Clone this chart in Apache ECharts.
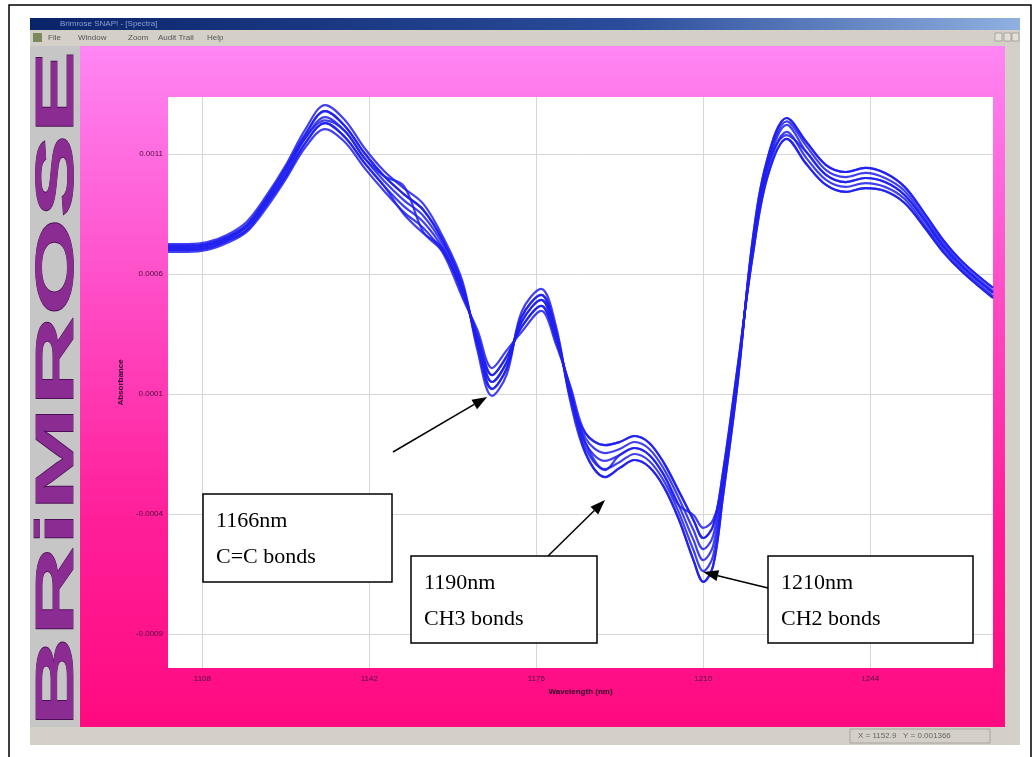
<!DOCTYPE html>
<html><head><meta charset="utf-8">
<script src="https://cdn.jsdelivr.net/npm/echarts@6/dist/echarts.min.js"></script>
<style>html,body{margin:0;padding:0;background:#fff}#c{width:1036px;height:757px}</style>
</head><body><div id="c"></div>
<script>
// ---------- DATA ----------
const wavelengths = [1101,1105,1109,1113,1117,1121,1125,1129,1133,1137,1141,1145,1149,1153,1157,1161,1164,1167,1170,1173,1177,1180,1183,1186,1190,1193,1196,1199,1202,1205,1208,1210,1212,1214,1217,1220,1223,1227,1231,1235,1239,1243,1247,1251,1255,1259,1263,1269];

const spectrumA = [708e-6,708e-6,717e-6,746e-6,796e-6,900e-6,1025e-6,1167e-6,1254e-6,1196e-6,1083e-6,988e-6,908e-6,842e-6,721e-6,533e-6,325e-6,150e-6,233e-6,400e-6,492e-6,346e-6,96e-6,-104e-6,-179e-6,-154e-6,-125e-6,-154e-6,-238e-6,-363e-6,-508e-6,-592e-6,-533e-6,-279e-6,179e-6,700e-6,1042e-6,1221e-6,1108e-6,1013e-6,983e-6,1000e-6,983e-6,929e-6,825e-6,713e-6,625e-6,521e-6];
const spectrumB = [725e-6,725e-6,733e-6,763e-6,817e-6,925e-6,1054e-6,1204e-6,1304e-6,1242e-6,1125e-6,1029e-6,958e-6,892e-6,754e-6,567e-6,283e-6,92e-6,183e-6,442e-6,538e-6,383e-6,63e-6,-146e-6,-246e-6,-208e-6,-175e-6,-204e-6,-288e-6,-421e-6,-592e-6,-683e-6,-617e-6,-329e-6,146e-6,733e-6,1075e-6,1250e-6,1150e-6,1054e-6,1025e-6,1042e-6,1021e-6,963e-6,854e-6,738e-6,646e-6,542e-6];
const spectrumC = [692e-6,692e-6,700e-6,729e-6,775e-6,875e-6,996e-6,1129e-6,1204e-6,1150e-6,1042e-6,946e-6,858e-6,792e-6,688e-6,500e-6,367e-6,208e-6,283e-6,358e-6,446e-6,308e-6,129e-6,-63e-6,-113e-6,-100e-6,-75e-6,-104e-6,-188e-6,-304e-6,-425e-6,-500e-6,-450e-6,-229e-6,213e-6,667e-6,1000e-6,1163e-6,1058e-6,971e-6,942e-6,958e-6,946e-6,896e-6,796e-6,688e-6,604e-6,500e-6];
const spectrumD = [717e-6,717e-6,725e-6,754e-6,804e-6,913e-6,1042e-6,1183e-6,1279e-6,1217e-6,1104e-6,1008e-6,933e-6,867e-6,738e-6,550e-6,304e-6,121e-6,208e-6,421e-6,513e-6,363e-6,79e-6,-125e-6,-213e-6,-183e-6,-150e-6,-179e-6,-263e-6,-392e-6,-550e-6,-638e-6,-575e-6,-304e-6,163e-6,717e-6,1058e-6,1236e-6,1133e-6,1033e-6,1004e-6,1021e-6,1000e-6,946e-6,838e-6,725e-6,633e-6,529e-6];
const spectrumE = [700e-6,700e-6,708e-6,738e-6,783e-6,888e-6,1008e-6,1146e-6,1229e-6,1171e-6,1063e-6,967e-6,883e-6,817e-6,704e-6,517e-6,346e-6,179e-6,258e-6,379e-6,467e-6,325e-6,113e-6,-83e-6,-146e-6,-129e-6,-100e-6,-129e-6,-213e-6,-333e-6,-467e-6,-546e-6,-492e-6,-254e-6,196e-6,683e-6,1021e-6,1192e-6,1083e-6,992e-6,963e-6,979e-6,963e-6,913e-6,808e-6,700e-6,613e-6,508e-6];
const spectrumF = [708e-6,708e-6,717e-6,746e-6,796e-6,900e-6,1025e-6,1167e-6,1240e-6,1196e-6,1083e-6,1008e-6,967e-6,775e-6,692e-6,533e-6,325e-6,150e-6,233e-6,400e-6,492e-6,346e-6,96e-6,-104e-6,-217e-6,-154e-6,-125e-6,-154e-6,-238e-6,-363e-6,-404e-6,-458e-6,-425e-6,-279e-6,179e-6,700e-6,1042e-6,1179e-6,1108e-6,1013e-6,983e-6,1000e-6,983e-6,929e-6,825e-6,713e-6,625e-6,521e-6];
const spectrumG = [717e-6,717e-6,725e-6,754e-6,804e-6,913e-6,1042e-6,1183e-6,1279e-6,1217e-6,1104e-6,1008e-6,933e-6,867e-6,738e-6,550e-6,304e-6,121e-6,208e-6,421e-6,513e-6,363e-6,79e-6,-63e-6,-113e-6,-100e-6,-75e-6,-104e-6,-188e-6,-304e-6,-425e-6,-500e-6,-450e-6,-229e-6,213e-6,667e-6,1000e-6,1163e-6,1058e-6,971e-6,942e-6,958e-6,946e-6,896e-6,796e-6,688e-6,604e-6,500e-6];
const spectrumH = [700e-6,700e-6,708e-6,738e-6,783e-6,888e-6,1008e-6,1146e-6,1229e-6,1171e-6,1063e-6,967e-6,850e-6,770e-6,704e-6,517e-6,346e-6,179e-6,258e-6,379e-6,467e-6,325e-6,113e-6,-146e-6,-246e-6,-208e-6,-175e-6,-204e-6,-288e-6,-421e-6,-592e-6,-683e-6,-617e-6,-329e-6,146e-6,733e-6,1075e-6,1250e-6,1150e-6,1054e-6,1025e-6,1042e-6,1021e-6,963e-6,854e-6,738e-6,646e-6,542e-6];

const xTicks = [1108,1142,1176,1210,1244];
const xTickLabels = ['1108','1142','1176','1210','1244'];
const yTicks = [0.0011,0.0006,0.0001,-0.0004,-0.0009];
const yTickLabels = ['0.0011','0.0006','0.0001','-0.0004','-0.0009'];

const annotationWavelengths = [1166,1190,1210];
const annotationValues = [88e-6,-342e-6,-642e-6];
const annotationLine1 = ['1166nm','1190nm','1210nm'];
const annotationLine2 = ['C=C bonds','CH3 bonds','CH2 bonds'];

const menuItems = ['File','Window','Zoom','Audit Trail','Help'];
const statusText = 'X = 1152.9   Y = 0.001366';
const titleText = 'Brimrose SNAP! - [Spectra]';
const logoText = 'BRiMROSE';

// ---------- LAYOUT (pixels, not data) ----------
const boxLayout = [
  {x:203, y:494, w:189, h:88, tail:[393,452]},
  {x:411, y:556, w:186, h:87, tail:[548,556]},
  {x:768, y:556, w:205, h:87, tail:[768,588]}
];
const menuX = [48,78,128,158,207];

const spectra = [spectrumA,spectrumB,spectrumC,spectrumD,spectrumE,spectrumF,spectrumG,spectrumH];

const chart = echarts.init(document.getElementById('c'), null, {renderer:'canvas', width:1036, height:757});

function pick(list, labels, v){
  for (let i=0;i<list.length;i++){ if (Math.abs(list[i]-v) < 1e-9) return labels[i]; }
  return '';
}

const bg = [];
// outer frame
bg.push({type:'rect', z:0, shape:{x:9,y:5,width:1022,height:760}, style:{fill:'#fff', stroke:'#000', lineWidth:1.5}});
// title bar
bg.push({type:'rect', z:0, shape:{x:30,y:18,width:990,height:12},
  style:{fill:{type:'linear',x:0,y:0,x2:1,y2:0,colorStops:[{offset:0,color:'#0a246a'},{offset:0.6,color:'#2a4c9a'},{offset:1,color:'#8fb0e0'}]}}});
bg.push({type:'text', z:1, x:60, y:24, style:{text:titleText, fill:'#8e9fd2', font:'8px "Liberation Sans"', verticalAlign:'middle'}});
// menu bar
bg.push({type:'rect', z:0, shape:{x:30,y:30,width:990,height:16}, style:{fill:'#d4d0c8'}});
bg.push({type:'rect', z:1, shape:{x:33,y:33,width:9,height:9}, style:{fill:'#7a8a5a'}});
menuItems.forEach((m,i)=>bg.push({type:'text', z:1, x:menuX[i], y:38, style:{text:m, fill:'#555', font:'8px "Liberation Sans"', verticalAlign:'middle'}}));
[995,1004,1012].forEach(x=>bg.push({type:'rect', z:1, shape:{x:x,y:33,width:7,height:8}, style:{fill:'#e4e0d8', stroke:'#888', lineWidth:0.6}}));
// left logo strip
bg.push({type:'rect', z:0, shape:{x:30,y:46,width:50,height:681}, style:{fill:'#c6c6c6'}});
bg.push({type:'text', z:1, x:58, y:389, rotation:Math.PI/2, scaleX:2.37, scaleY:1,
  style:{text:logoText, fill:'#8a2c92', stroke:'#4e0e58', lineWidth:0.8, font:'bold 53px "Liberation Sans"', align:'center', verticalAlign:'middle'}});
// pink panel
bg.push({type:'rect', z:0, shape:{x:80,y:46,width:925,height:681},
  style:{fill:{type:'linear',x:0,y:0,x2:0,y2:1,colorStops:[{offset:0,color:'#ff86f4'},{offset:0.35,color:'#ff4ec8'},{offset:0.7,color:'#ff1e98'},{offset:1,color:'#ff0a80'}]}}});
// right frame
bg.push({type:'rect', z:0, shape:{x:1005,y:46,width:15,height:681}, style:{fill:'#d4d0c8'}});
// status bar
bg.push({type:'rect', z:0, shape:{x:30,y:727,width:990,height:18}, style:{fill:'#d4d0c8'}});
bg.push({type:'rect', z:1, shape:{x:850,y:729,width:140,height:14}, style:{fill:'#d4d0c8', stroke:'#a8a49c', lineWidth:1}});
bg.push({type:'text', z:2, x:858, y:736, style:{text:statusText, fill:'#666', font:'8px "Liberation Sans"', verticalAlign:'middle'}});
// plot white area
bg.push({type:'rect', z:1, shape:{x:168,y:97,width:825,height:571}, style:{fill:'#ffffff'}});

const option = {
  animation:false,
  backgroundColor:'#ffffff',
  grid:{left:168, top:97, width:825, height:571, containLabel:false},
  xAxis:{type:'value', min:1101, max:1269, z:3,
    axisLine:{show:false},
    axisTick:{show:false, customValues:xTicks},
    axisLabel:{customValues:xTicks, formatter:v=>pick(xTicks,xTickLabels,v), fontSize:8, color:'#4a1040', margin:7, fontFamily:'Liberation Sans'},
    splitLine:{show:true, lineStyle:{color:'#d6d6d6', width:1}},
    name:'Wavelength (nm)', nameLocation:'middle', nameGap:19,
    nameTextStyle:{fontWeight:'bold', fontSize:8, color:'#2a0628', fontFamily:'Liberation Sans'}
  },
  yAxis:{type:'value', min:-0.0010417, max:0.0013375, z:3,
    axisLine:{show:false},
    axisTick:{show:false, customValues:yTicks},
    axisLabel:{customValues:yTicks, formatter:v=>pick(yTicks,yTickLabels,v), fontSize:8, color:'#4a1040', margin:5, fontFamily:'Liberation Sans'},
    splitLine:{show:true, lineStyle:{color:'#d6d6d6', width:1}},
    name:'Absorbance', nameLocation:'middle', nameGap:42,
    nameTextStyle:{fontWeight:'bold', fontSize:8, color:'#2a0628', fontFamily:'Liberation Sans'}
  },
  graphic:{elements:bg},
  series: spectra.map((s,k)=>({
    type:'line', z:5, name:'spectrum'+k, showSymbol:false, smooth:0.35,
    data: wavelengths.map((w,i)=>[w,s[i]]),
    lineStyle:{color:'#1e1ef0', width:2.2, opacity:0.85},
    emphasis:{disabled:true}
  }))
};
chart.setOption(option);

// annotations: arrows point at data positions
const ann = [];
annotationWavelengths.forEach((wl,i)=>{
  const b = boxLayout[i];
  const tip = chart.convertToPixel({gridIndex:0}, [wl, annotationValues[i]]);
  const dx = tip[0]-b.tail[0], dy = tip[1]-b.tail[1];
  const len = Math.sqrt(dx*dx+dy*dy);
  const ux = dx/len, uy = dy/len, nx = -uy, ny = ux;
  const hl = 15, hw = 5.5;
  const bx = tip[0]-ux*hl, by = tip[1]-uy*hl;
  ann.push({type:'line', z:10, shape:{x1:b.tail[0], y1:b.tail[1], x2:bx, y2:by}, style:{stroke:'#000', lineWidth:1.5}});
  ann.push({type:'polygon', z:10, shape:{points:[[tip[0],tip[1]],[bx+nx*hw,by+ny*hw],[bx-nx*hw,by-ny*hw]]}, style:{fill:'#000'}});
  ann.push({type:'rect', z:11, shape:{x:b.x,y:b.y,width:b.w,height:b.h}, style:{fill:'#fff', stroke:'#000', lineWidth:1.5}});
  ann.push({type:'text', z:12, x:b.x+13, y:b.y+27, style:{text:annotationLine1[i], fill:'#000', font:'22px "Liberation Serif"', verticalAlign:'middle'}});
  ann.push({type:'text', z:12, x:b.x+13, y:b.y+63, style:{text:annotationLine2[i], fill:'#000', font:'22px "Liberation Serif"', verticalAlign:'middle'}});
});
chart.setOption({graphic:{elements:bg.concat(ann)}});
</script>
</body></html>
